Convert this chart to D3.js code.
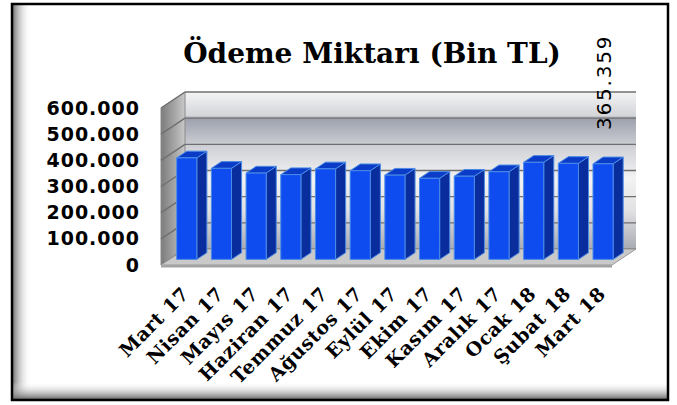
<!DOCTYPE html>
<html>
<head>
<meta charset="utf-8">
<script src="https://cdn.jsdelivr.net/npm/d3@7"></script>
<style>
  body { margin: 0; background: #fff; }
  svg { display: block; }
</style>
</head>
<body>
<div id="chart"></div>
<script>
// Chart data
var categories = ["Mart 17", "Nisan 17", "Mayıs 17", "Haziran 17", "Temmuz 17", "Ağustos 17",
                  "Eylül 17", "Ekim 17", "Kasım 17", "Aralık 17", "Ocak 18", "Şubat 18", "Mart 18"];
var values = [388000, 348000, 330000, 324000, 346000, 339000, 322000, 310000, 318000, 335000, 371000, 367000, 365359];
var yTicks = [0, 100000, 200000, 300000, 400000, 500000, 600000];
var title = "Ödeme Miktarı (Bin TL)";

var width = 677,
    height = 405,
    // front plane of the 3D box
    plot = { left: 161, right: 612, bottom: 265, top: 108 },
    // depth vector of the box
    depth = { dx: 24, dy: -16 },
    // bars sit between these depth fractions
    barFront = 0.35,
    barBack = 0.77;

// Turkish number format: 600.000
var tr = d3.formatLocale({ decimal: ",", thousands: ".", grouping: [3], currency: ["", " TL"] });
var fmt = tr.format(",d");

var svg = d3.select("#chart").append("svg")
    .attr("width", width)
    .attr("height", height);

var defs = svg.append("defs");

// back wall metallic gradient
var wallGrad = defs.append("linearGradient").attr("id", "wall")
    .attr("x1", 0).attr("y1", 0).attr("x2", 0).attr("y2", 1);
[[0, "#f4f4f5"], [0.15, "#d4d5d9"], [0.17, "#9ea2ae"], [0.36, "#d2d3d8"], [0.55, "#f3f3f4"],
 [0.75, "#e2e2e4"], [1, "#a9abb3"]].forEach(function (s) {
    wallGrad.append("stop").attr("offset", s[0]).attr("stop-color", s[1]);
});

var sideGrad = defs.append("linearGradient").attr("id", "side")
    .attr("x1", 0).attr("y1", 0).attr("x2", 1).attr("y2", 0);
[[0, "#7c7c7c"], [0.6, "#a8a8a8"], [1, "#c9c9c9"]].forEach(function (s) {
    sideGrad.append("stop").attr("offset", s[0]).attr("stop-color", s[1]);
});

var shadowL = defs.append("linearGradient").attr("id", "shadowL")
    .attr("x1", 0).attr("y1", 0).attr("x2", 1).attr("y2", 0);
shadowL.append("stop").attr("offset", 0).attr("stop-color", "#7a7a7a");
shadowL.append("stop").attr("offset", 1).attr("stop-color", "#fff").attr("stop-opacity", 0);

var shadowB = defs.append("linearGradient").attr("id", "shadowB")
    .attr("x1", 0).attr("y1", 1).attr("x2", 0).attr("y2", 0);
shadowB.append("stop").attr("offset", 0).attr("stop-color", "#6e6e6e");
shadowB.append("stop").attr("offset", 1).attr("stop-color", "#fff").attr("stop-opacity", 0);

// outer frame with inner shadow
svg.append("rect").attr("x", 13).attr("y", 5).attr("width", 18).attr("height", 394)
    .attr("fill", "url(#shadowL)");
svg.append("rect").attr("x", 13).attr("y", 382).attr("width", 654).attr("height", 17)
    .attr("fill", "url(#shadowB)");
svg.append("rect").attr("x", 12).attr("y", 4).attr("width", 656).attr("height", 396)
    .attr("fill", "none").attr("stroke", "#000").attr("stroke-width", 2.5);

// scales
var y = d3.scaleLinear().domain([0, 600000]).range([plot.bottom, plot.top]);
var x = d3.scaleBand().domain(categories).range([plot.left, plot.right])
    .paddingInner(0.42).paddingOuter(0.21);

function off(f) { return [depth.dx * f, depth.dy * f]; }
var back = off(1);

// back wall
svg.append("rect")
    .attr("x", plot.left + back[0])
    .attr("y", y(600000) + back[1])
    .attr("width", plot.right - plot.left)
    .attr("height", y(0) - y(600000))
    .attr("fill", "url(#wall)");

// side wall
svg.append("polygon")
    .attr("points", [
        [plot.left, y(0)], [plot.left + back[0], y(0) + back[1]],
        [plot.left + back[0], y(600000) + back[1]], [plot.left, y(600000)]
    ].join(" "))
    .attr("fill", "url(#side)")
    .attr("stroke", "#8a8a8a").attr("stroke-width", 1);

// gridlines on back wall and side wall
var grid = svg.append("g").attr("stroke", "#6f6f6f").attr("stroke-width", 1.4).attr("fill", "none");
grid.selectAll("line.back").data(yTicks).enter().append("line")
    .attr("class", "back")
    .attr("x1", plot.left + back[0]).attr("x2", plot.right + back[0])
    .attr("y1", function (d) { return y(d) + back[1]; })
    .attr("y2", function (d) { return y(d) + back[1]; });
grid.selectAll("line.side").data(yTicks).enter().append("line")
    .attr("class", "side")
    .attr("x1", plot.left).attr("x2", plot.left + back[0])
    .attr("y1", function (d) { return y(d); })
    .attr("y2", function (d) { return y(d) + back[1]; });

// floor
svg.append("polygon")
    .attr("points", [
        [plot.left, y(0)], [plot.right, y(0)],
        [plot.right + back[0], y(0) + back[1]], [plot.left + back[0], y(0) + back[1]]
    ].join(" "))
    .attr("fill", "#c9c9c9").attr("stroke", "#9a9a9a").attr("stroke-width", 1);
svg.append("rect")
    .attr("x", plot.left).attr("y", y(0))
    .attr("width", plot.right - plot.left).attr("height", 2.5)
    .attr("fill", "#a3a3a3");

// bars
var f1 = off(barFront), f2 = off(barBack);
var bw = x.bandwidth();
var bars = svg.selectAll("g.bar")
    .data(values)
    .enter().append("g")
    .attr("class", "bar")
    .attr("stroke", "#4a8be6").attr("stroke-width", 1).attr("stroke-linejoin", "round");

bars.append("polygon") // side face
    .attr("points", function (d, i) {
        var x0 = x(categories[i]) + bw + f1[0];
        return [[x0, y(0) + f1[1]], [x0 + f2[0] - f1[0], y(0) + f2[1]],
                [x0 + f2[0] - f1[0], y(d) + f2[1]], [x0, y(d) + f1[1]]].join(" ");
    })
    .attr("fill", "#0a2d9e");

bars.append("polygon") // top face
    .attr("points", function (d, i) {
        var x0 = x(categories[i]) + f1[0], x1 = x0 + bw;
        var dx = f2[0] - f1[0], yt = y(d) + f1[1], dy = f2[1] - f1[1];
        return [[x0, yt], [x1, yt], [x1 + dx, yt + dy], [x0 + dx, yt + dy]].join(" ");
    })
    .attr("fill", "#0b3cc8");

bars.append("rect") // front face
    .attr("x", function (d, i) { return x(categories[i]) + f1[0]; })
    .attr("y", function (d) { return y(d) + f1[1]; })
    .attr("width", bw)
    .attr("height", function (d) { return y(0) - y(d); })
    .attr("fill", "#0f4cf0");

// y axis labels
var yAxis = svg.append("g")
    .attr("transform", "translate(" + plot.left + ",0)")
    .call(d3.axisLeft(y).tickValues(yTicks).tickSize(0).tickPadding(21).tickFormat(fmt));
yAxis.select(".domain").remove();
yAxis.selectAll("text")
    .style("font-family", "'DejaVu Sans', sans-serif")
    .style("font-weight", "bold")
    .style("font-size", "19px")
    .style("letter-spacing", "1px")
    .attr("fill", "#000");

// x axis labels, rotated
var xAxis = svg.append("g")
    .attr("transform", "translate(12," + (plot.bottom + 30) + ")")
    .call(d3.axisBottom(x).tickSize(0).tickPadding(0));
xAxis.select(".domain").remove();
xAxis.selectAll("text")
    .attr("y", 0).attr("dy", 0)
    .attr("transform", "rotate(-45)")
    .attr("text-anchor", "end")
    .style("font-family", "'DejaVu Serif', serif")
    .style("font-weight", "bold")
    .style("font-size", "19px")
    .style("letter-spacing", "0.6px")
    .attr("fill", "#000");

// title
svg.append("text")
    .attr("x", 372).attr("y", 63)
    .attr("text-anchor", "middle")
    .style("font-family", "'DejaVu Serif', serif")
    .style("font-weight", "bold")
    .style("font-size", "28px")
    .text(title);

// value label for the last bar (rotated)
var last = values.length - 1;
svg.append("text")
    .attr("transform", "translate(" + (x(categories[last]) + bw + 6) + ",130) rotate(-90)")
    .style("font-family", "'DejaVu Sans', sans-serif")
    .style("font-size", "20px")
    .style("letter-spacing", "1.8px")
    .attr("fill", "#000")
    .text(fmt(values[last]));
</script>
</body>
</html>
